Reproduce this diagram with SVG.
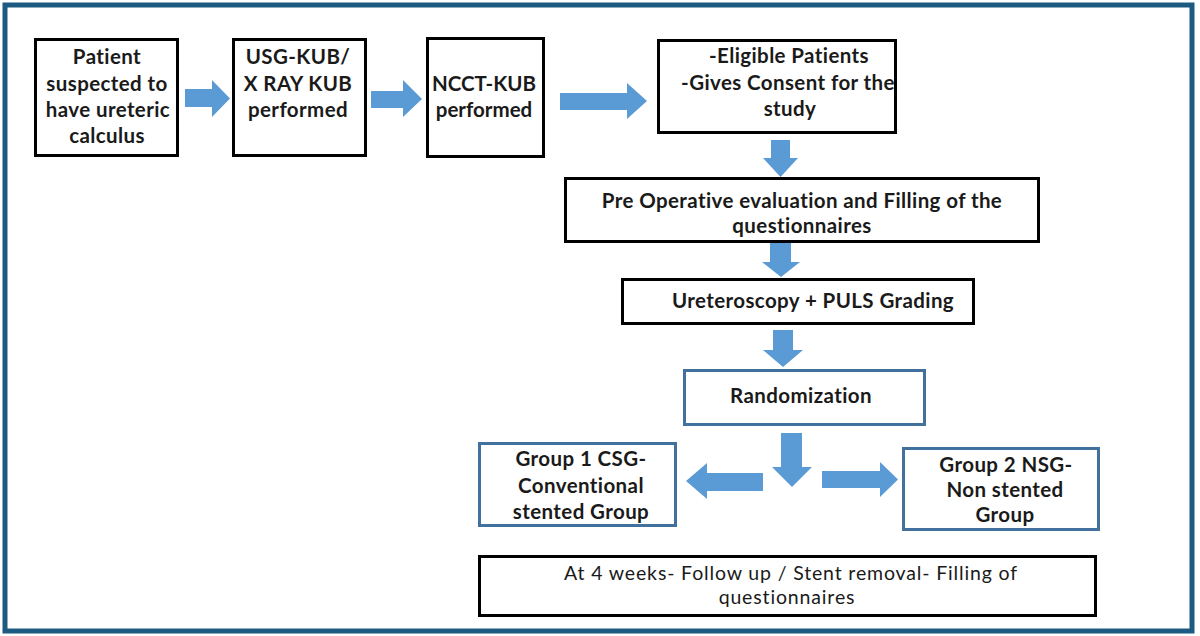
<svg xmlns="http://www.w3.org/2000/svg" width="1200" height="636" viewBox="0 0 1200 636">
<style>
.box{fill:#fff;stroke:#000;stroke-width:3}
.bbox{fill:#fff;stroke:#41719c;stroke-width:3}
.arr{fill:#5b9bd5}
text{font-family:Lato,"Liberation Sans",sans-serif;font-size:20.5px;letter-spacing:0.4px;fill:#1a1a1a;text-anchor:middle}
.b{font-weight:bold}
.t{letter-spacing:0px}
.r{font-size:19.5px;letter-spacing:0.85px}
</style>
<rect x="0" y="0" width="1200" height="636" fill="#fff"/>
<rect id="frame" x="5" y="5" width="1187" height="626" fill="#fff" stroke="#1d5a82" stroke-width="5"/>
<g id="connectors">
<polygon class="arr" points="185,89 212,89 212,80 230,98.5 212,117 212,107 185,107"/>
<polygon class="arr" points="371,91 403,91 403,80 422,99 403,117 403,108 371,108"/>
<polygon class="arr" points="560,93 627,93 627,83 647,101 627,119 627,110 560,110"/>
<polygon class="arr" points="771,140 790,140 790,158 798,158 780.5,177 763,158 771,158"/>
<polygon class="arr" points="770,243 791,243 791,262 800,262 781,277 762,262 770,262"/>
<polygon class="arr" points="773,330 793,330 793,350 803,350 783,367 763,350 773,350"/>
<polygon class="arr" points="781,433 802,433 802,467 812,467 792,487 772,467 781,467"/>
<polygon class="arr" points="763,473 707,473 707,463 686,481 707,499 707,491 763,491"/>
<polygon class="arr" points="822,471 880,471 880,462 898,479.5 880,497 880,488 822,488"/>
</g>
<g id="n1"><rect class="box" x="35.5" y="39.5" width="142" height="116"/>
<text class="b" x="107" y="64">Patient</text><text class="b" x="107" y="91">suspected to</text><text class="b" x="108" y="117">have ureteric</text><text class="b" x="107" y="143">calculus</text></g>
<g id="n2"><rect class="box" x="233.5" y="39.5" width="132" height="116"/>
<text class="b" x="298" y="64">USG-KUB/</text><text class="b" x="298" y="91">X RAY KUB</text><text class="b" x="298" y="117">performed</text></g>
<g id="n3"><rect class="box" x="427.5" y="38.5" width="116" height="118"/>
<text class="b t" x="484" y="91">NCCT-KUB</text><text class="b t" x="484" y="117">performed</text></g>
<g id="n4"><rect class="box" x="658.5" y="40.5" width="237" height="92"/>
<text class="b" x="789" y="63">-Eligible Patients</text><text class="b" x="788" y="90">-Gives Consent for the</text><text class="b" x="790" y="116">study</text></g>
<g id="n5"><rect class="box" x="565.5" y="178.5" width="473" height="63"/>
<text class="b" x="802" y="208">Pre Operative evaluation and Filling of the</text><text class="b" x="802" y="233">questionnaires</text></g>
<g id="n6"><rect class="box" x="622.5" y="279.5" width="351" height="44"/>
<text class="b" x="813" y="308">Ureteroscopy + PULS Grading</text></g>
<g id="n7"><rect class="bbox" x="684.5" y="370.5" width="240" height="54"/>
<text class="b" x="801" y="403">Randomization</text></g>
<g id="n8"><rect class="bbox" x="479.5" y="443.5" width="196" height="82"/>
<text class="b" x="581" y="466">Group 1 CSG-</text><text class="b" x="581" y="493">Conventional</text><text class="b" x="581" y="519">stented Group</text></g>
<g id="n9"><rect class="bbox" x="903.5" y="448.5" width="195" height="81"/>
<text class="b" x="1006" y="472">Group 2 NSG-</text><text class="b" x="1005" y="497">Non stented</text><text class="b" x="1005" y="522">Group</text></g>
<g id="n10"><rect class="box" x="479.5" y="556.5" width="616" height="59"/>
<text class="r" x="791" y="580">At 4 weeks- Follow up / Stent removal- Filling of</text><text class="r" x="787" y="604">questionnaires</text></g>
</svg>
